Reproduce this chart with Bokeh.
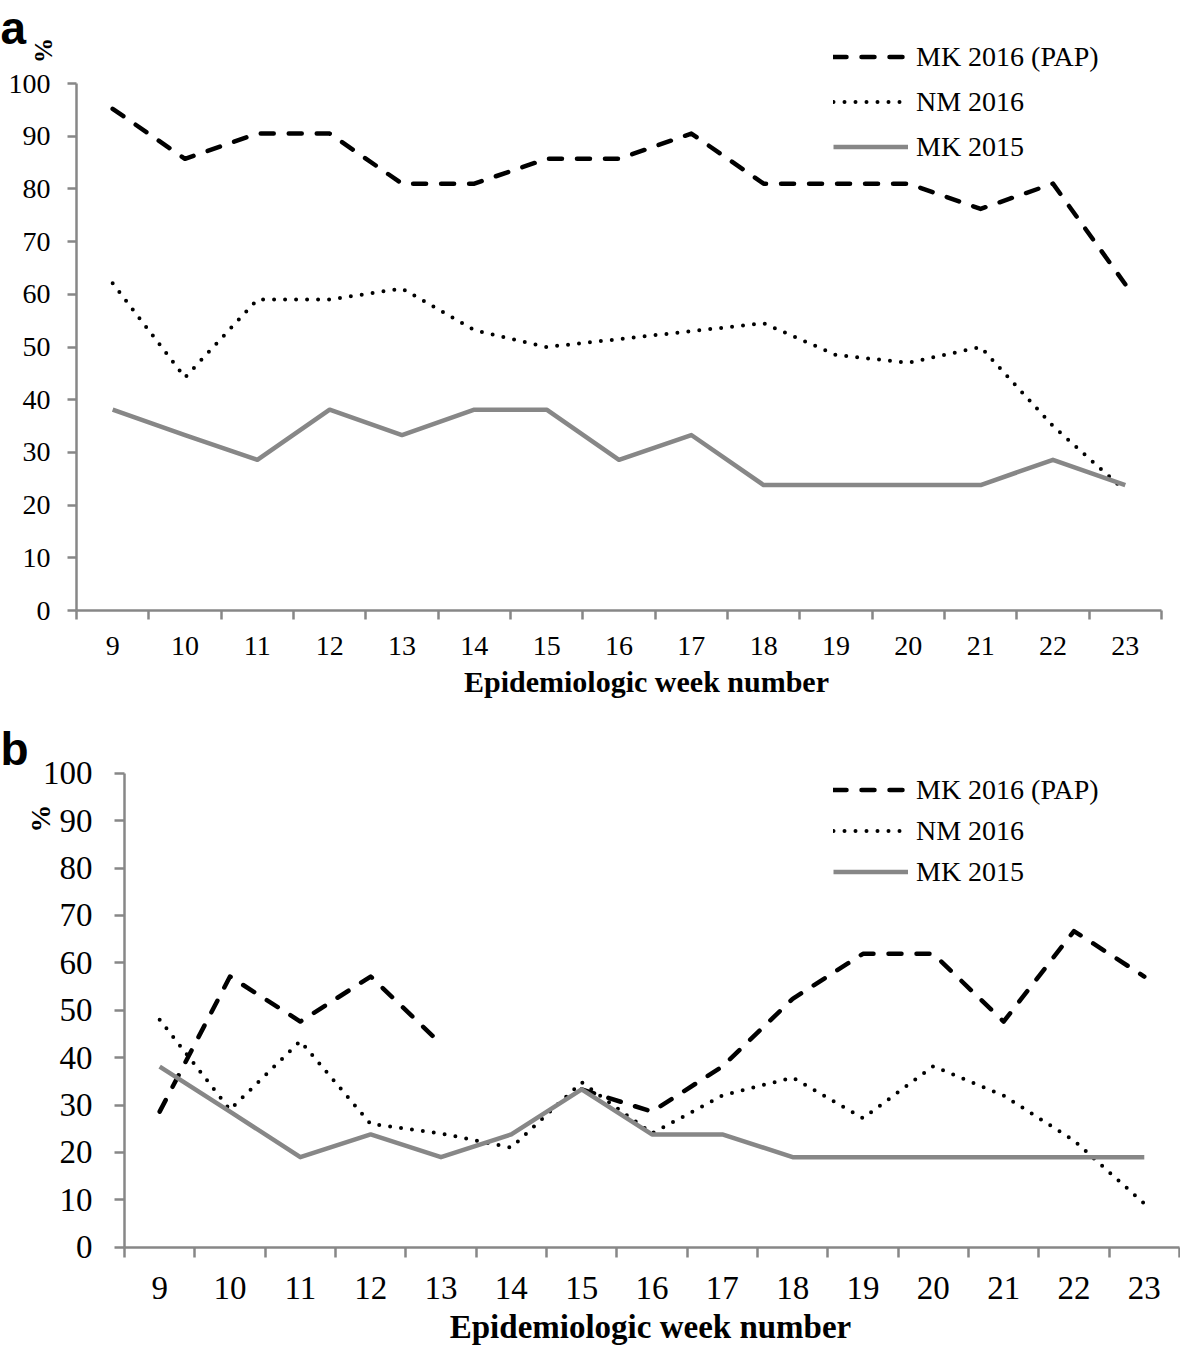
import math
from bokeh.plotting import figure
from bokeh.models import FixedTicker, Legend, LegendItem, Label, Range1d
from bokeh.layouts import column
from bokeh.embed import file_html
from bokeh.resources import INLINE

# ---------------- data ----------------
weeks = list(range(9, 24))
week_labels = [str(w) for w in weeks]
y_ticks = list(range(0, 101, 10))
series_names = ["MK 2016 (PAP)", "NM 2016", "MK 2015"]
x_title = "Epidemiologic week number"
y_title = "%"

a_mk2016 = [95.2, 85.7, 90.5, 90.5, 81.0, 81.0, 85.7, 85.7, 90.5, 81.0, 81.0, 81.0, 76.2, 81.0, 61.9]
a_nm2016 = [62.1, 44.2, 59.0, 59.0, 61.1, 53.2, 50.0, 51.5, 53.0, 54.5, 48.5, 47.0, 50.0, 35.0, 22.7]
a_mk2015 = [38.1, 33.3, 28.6, 38.1, 33.3, 38.1, 38.1, 28.6, 33.3, 23.8, 23.8, 23.8, 23.8, 28.6, 23.8]

b_mk2016 = [28.6, 57.1, 47.6, 57.1, 42.9, float("nan"), 33.3, 28.6, 38.1, 52.4, 61.9, 61.9, 47.6, 66.7, 57.1]
b_nm2016 = [48.0, 29.0, 43.5, 26.0, 24.0, 21.0, 34.8, 24.0, 32.0, 35.8, 27.2, 38.2, 32.0, 22.5, 9.2]
b_mk2015 = [38.1, 28.6, 19.0, 23.8, 19.0, 23.8, 33.3, 23.8, 23.8, 19.0, 19.0, 19.0, 19.0, 19.0, 19.0]

AXIS_GRAY = "#878787"
LINE_GRAY = "#878787"
SERIF = "Liberation Serif"
PAGE_W = 1180


def make_panel(letter, mk16, nm16, mk15, page_top, fig_h, axis_left, ux, axis_bottom, uy,
               tick_fs, title_fs, title_pos, pct_center, pct_fs,
               legend_left, legend_top, legend_row, ylab_standoff, xlab_standoff, tick_out,
               letter_base):
    xb0, xb1 = weeks[0] - 0.5, weeks[-1] + 0.5
    # the frame covers the whole canvas; axes are drawn at fixed data locations
    x_start = xb0 - axis_left / ux
    x_end = x_start + PAGE_W / ux
    y_end = (axis_bottom - page_top) / uy
    y_start = y_end - fig_h / uy

    p = figure(width=PAGE_W, height=fig_h,
               x_range=Range1d(x_start, x_end), y_range=Range1d(y_start, y_end),
               output_backend="svg", toolbar_location=None,
               min_border_left=0, min_border_right=0, min_border_top=0, min_border_bottom=0)
    p.title.visible = False
    p.outline_line_color = None
    p.xgrid.visible = False
    p.ygrid.visible = False
    p.background_fill_color = "white"
    p.border_fill_color = "white"

    def dx(px):
        return x_start + px / ux

    def dy(py):
        return y_end - (py - page_top) / uy

    r1 = p.line(weeks, mk16, line_color="black", line_width=4.5, line_dash="13 15",
                line_cap="round", line_join="round")
    r2 = p.line(weeks, nm16, line_color="black", line_width=4, line_dash="0 11",
                line_cap="round", line_join="round")
    r3 = p.line(weeks, mk15, line_color=LINE_GRAY, line_width=4.5, line_join="round")

    # x axis: labels at categories, tick marks between categories
    xa = p.xaxis[0]
    xa.fixed_location = 0
    xa.bounds = (xb0, xb1)
    xa.ticker = FixedTicker(ticks=weeks, minor_ticks=[w - 0.5 for w in weeks] + [weeks[-1] + 0.5])
    xa.major_label_overrides = {w: l for w, l in zip(weeks, week_labels)}
    xa.major_tick_line_color = None
    xa.major_tick_out = 0
    xa.major_tick_in = 0
    xa.minor_tick_line_color = AXIS_GRAY
    xa.minor_tick_line_width = 2.5
    xa.minor_tick_out = tick_out
    xa.minor_tick_in = 0
    xa.axis_line_color = AXIS_GRAY
    xa.axis_line_width = 2.5
    xa.major_label_text_font = SERIF
    xa.major_label_text_font_size = f"{tick_fs}px"
    xa.major_label_text_color = "black"
    xa.major_label_standoff = xlab_standoff

    ya = p.yaxis[0]
    ya.fixed_location = xb0
    ya.bounds = (y_ticks[0], y_ticks[-1])
    ya.ticker = FixedTicker(ticks=y_ticks, minor_ticks=[])
    ya.major_tick_line_color = AXIS_GRAY
    ya.major_tick_line_width = 2.5
    ya.major_tick_out = tick_out
    ya.major_tick_in = 0
    ya.axis_line_color = AXIS_GRAY
    ya.axis_line_width = 2.5
    ya.major_label_text_font = SERIF
    ya.major_label_text_font_size = f"{tick_fs}px"
    ya.major_label_text_color = "black"
    ya.major_label_standoff = ylab_standoff

    legend = Legend(items=[LegendItem(label=n, renderers=[r]) for n, r in zip(series_names, [r1, r2, r3])],
                    location=(legend_left, page_top + fig_h - (legend_top + 3 * legend_row)),
                    glyph_width=75, glyph_height=legend_row, label_height=legend_row,
                    spacing=0, padding=0, margin=0, label_standoff=8,
                    border_line_color=None, background_fill_alpha=0,
                    label_text_font=SERIF, label_text_font_size="28px", label_text_color="black")
    p.add_layout(legend)

    p.add_layout(Label(x=dx(title_pos[0]), y=dy(title_pos[1]), text=x_title,
                       text_font=SERIF, text_font_style="bold", text_font_size=f"{title_fs}px",
                       text_align="center", text_baseline="alphabetic", text_color="black"))
    p.add_layout(Label(x=dx(pct_center[0]), y=dy(pct_center[1]), text=y_title, angle=math.pi / 2,
                       text_font=SERIF, text_font_style="bold", text_font_size=f"{pct_fs}px",
                       text_align="center", text_baseline="middle", text_color="black"))
    p.add_layout(Label(x=dx(0), y=dy(letter_base), text=letter,
                       text_font="Liberation Sans", text_font_style="bold", text_font_size="46px",
                       text_align="left", text_baseline="alphabetic", text_color="black"))
    return p


pa = make_panel("a", a_mk2016, a_nm2016, a_mk2015, page_top=0, fig_h=700,
                axis_left=76, ux=72.33, axis_bottom=610, uy=5.27,
                tick_fs=28, title_fs=30, title_pos=(646, 681), pct_center=(43, 50), pct_fs=25,
                legend_left=833, legend_top=34, legend_row=45,
                ylab_standoff=17, xlab_standoff=17, tick_out=9, letter_base=27)
pb = make_panel("b", b_mk2016, b_nm2016, b_mk2015, page_top=700, fig_h=648,
                axis_left=124, ux=70.33, axis_bottom=1246.7, uy=4.74,
                tick_fs=33, title_fs=33, title_pos=(650, 1326), pct_center=(40, 818), pct_fs=28,
                legend_left=833, legend_top=769, legend_row=41,
                ylab_standoff=22, xlab_standoff=20, tick_out=10, letter_base=748)

layout = column(pa, pb, spacing=0)
open("out.html", "w").write(file_html(layout, INLINE))
